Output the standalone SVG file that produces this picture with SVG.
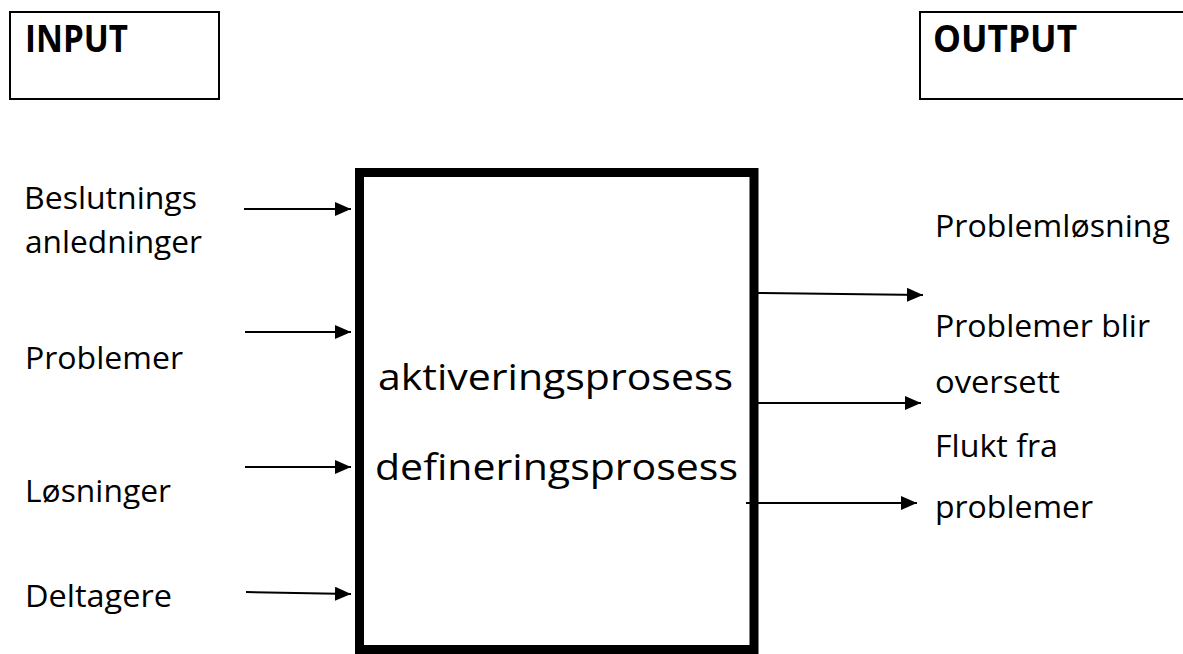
<svg xmlns="http://www.w3.org/2000/svg" width="1183" height="654" viewBox="0 0 1183 654">
<style>
  .t { font-family: "Open Sans", "Liberation Sans", sans-serif; font-size: 31px; fill: #000; }
  .b { font-family: "Open Sans", "Liberation Sans", sans-serif; font-size: 37px; font-weight: bold; fill: #000; }
  .m { font-family: "Open Sans", "Liberation Sans", sans-serif; font-size: 37px; fill: #000; }
  .box { fill: #fff; stroke: #000; stroke-width: 2; }
  .c { stroke: #000; stroke-width: 2; fill: none; marker-end: url(#ah); }
</style>
<defs>
  <marker id="ah" markerUnits="userSpaceOnUse" markerWidth="16" markerHeight="14" refX="16" refY="7" orient="auto">
    <path d="M0,0 L16,7 L0,14 z" fill="#000"/>
  </marker>
</defs>
<rect width="1183" height="654" fill="#fff"/>
<g id="input">
  <rect class="box" x="10" y="12" width="209" height="87"/>
  <text class="b" x="25" y="52" textLength="103" lengthAdjust="spacingAndGlyphs">INPUT</text>
</g>
<g id="output">
  <rect class="box" x="920" y="12" width="300" height="87"/>
  <text class="b" x="933" y="52" textLength="144" lengthAdjust="spacingAndGlyphs">OUTPUT</text>
</g>
<g id="process">
  <rect x="359.5" y="172.5" width="394.5" height="477" fill="#fff" stroke="#000" stroke-width="9"/>
  <text class="m" x="378" y="390" textLength="355" lengthAdjust="spacingAndGlyphs">aktiveringsprosess</text>
  <text class="m" x="375" y="480" textLength="363" lengthAdjust="spacingAndGlyphs">defineringsprosess</text>
</g>
<g id="in-labels">
  <g id="beslutnings">
    <text class="t" x="24" y="209" textLength="173" lengthAdjust="spacingAndGlyphs">Beslutnings</text>
    <text class="t" x="25" y="253" textLength="177" lengthAdjust="spacingAndGlyphs">anledninger</text>
  </g>
  <g id="problemer"><text class="t" x="25" y="369" textLength="158" lengthAdjust="spacingAndGlyphs">Problemer</text></g>
  <g id="losninger"><text class="t" x="25" y="502" textLength="146" lengthAdjust="spacingAndGlyphs">Løsninger</text></g>
  <g id="deltagere"><text class="t" x="25" y="607" textLength="147" lengthAdjust="spacingAndGlyphs">Deltagere</text></g>
</g>
<g id="out-labels">
  <g id="problemlosning"><text class="t" x="935" y="237" textLength="235" lengthAdjust="spacingAndGlyphs">Problemløsning</text></g>
  <g id="oversett">
    <text class="t" x="935" y="337" textLength="215" lengthAdjust="spacingAndGlyphs">Problemer blir</text>
    <text class="t" x="935" y="393" textLength="125" lengthAdjust="spacingAndGlyphs">oversett</text>
  </g>
  <g id="flukt">
    <text class="t" x="935" y="457" textLength="123" lengthAdjust="spacingAndGlyphs">Flukt fra</text>
    <text class="t" x="935" y="518" textLength="158" lengthAdjust="spacingAndGlyphs">problemer</text>
  </g>
</g>
<g id="connectors">
  <line class="c" x1="244" y1="209" x2="351" y2="209"/>
  <line class="c" x1="245" y1="332" x2="351" y2="332"/>
  <line class="c" x1="245" y1="467" x2="351" y2="467"/>
  <line class="c" x1="246" y1="592" x2="351" y2="594"/>
  <line class="c" x1="758" y1="293" x2="923" y2="295"/>
  <line class="c" x1="758" y1="403" x2="921" y2="403"/>
  <line class="c" x1="746" y1="503" x2="917" y2="503"/>
</g>
</svg>
